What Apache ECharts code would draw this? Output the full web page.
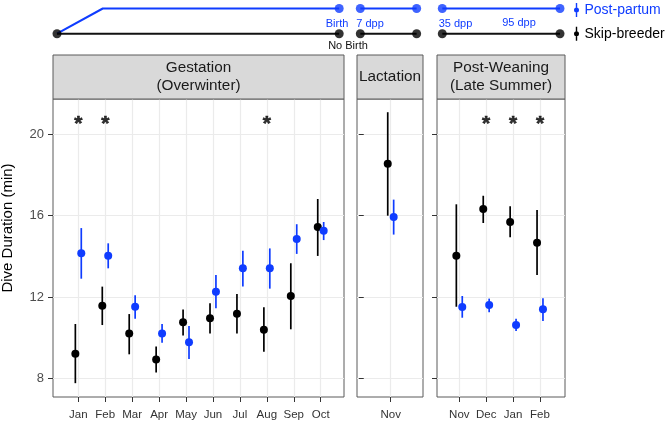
<!DOCTYPE html>
<html><head><meta charset="utf-8">
<script src="https://cdn.jsdelivr.net/npm/echarts@6/dist/echarts.min.js"></script>
<style>html,body{margin:0;padding:0;background:#fff}#c{width:665px;height:422px}</style>
</head><body><div id="c"></div>
<script>
// ---------------- data ----------------
const monthsGest = ['Jan','Feb','Mar','Apr','May','Jun','Jul','Aug','Sep','Oct'];
const skipGestMean = [9.21, 11.57, 10.20, 8.92, 10.76, 10.95, 11.18, 10.39, 12.05, 15.44];
const skipGestLo   = [7.76, 10.62, 9.18, 8.29, 10.10, 10.20, 10.20, 9.30, 10.41, 14.02];
const skipGestHi   = [10.67, 12.51, 11.16, 9.56, 11.38, 11.69, 12.15, 11.49, 13.66, 16.82];
const postGestMean = [14.15, 14.03, 11.52, 10.21, 9.77, 12.26, 13.41, 13.41, 14.85, 15.26];
const postGestLo   = [12.90, 13.41, 10.93, 9.75, 8.95, 11.44, 12.51, 12.41, 14.12, 14.80];
const postGestHi   = [15.39, 14.64, 12.08, 10.67, 10.57, 13.08, 14.28, 14.39, 15.58, 15.69];
const sigGest = ['Jan','Feb','Aug'];

const monthsLact = ['Nov'];
const skipLactMean = [18.56];
const skipLactLo   = [16.00];
const skipLactHi   = [21.09];
const postLactMean = [15.94];
const postLactLo   = [15.07];
const postLactHi   = [16.79];
const sigLact = [];

const monthsWean = ['Nov','Dec','Jan','Feb'];
const skipWeanMean = [14.03, 16.33, 15.69, 14.67];
const skipWeanLo   = [11.52, 15.64, 14.94, 13.08];
const skipWeanHi   = [16.56, 16.98, 16.46, 16.28];
const postWeanMean = [11.51, 11.61, 10.62, 11.40];
const postWeanLo   = [10.98, 11.25, 10.33, 10.82];
const postWeanHi   = [12.05, 11.92, 10.93, 11.94];
const sigWean = ['Dec','Jan','Feb'];

const yTicks = [8, 12, 16, 20];
const sigLevel = 20.5;

// timeline schematic (units 0..100 along the timeline)
const tlPostSegments = [[[0,0],[9.1,1],[56.1,1]], [[60.3,1],[71.5,1]], [[76.6,1],[100,1]]];
const tlSkipSegments = [[[0,0],[56.1,0]], [[60.3,0],[71.5,0]], [[76.6,0],[100,0]]];
const tlPostDots = [[56.1,1],[60.3,1],[71.5,1],[76.6,1],[100,1]];
const tlSkipDots = [[0,0],[56.1,0],[60.3,0],[71.5,0],[76.6,0],[100,0]];

// ---------------- style ----------------
const FONT = '"Liberation Sans", Arial, Helvetica, sans-serif';
const BLUE = '#0f3cff', BLACK = '#000000';
const BORDER = '#5a5a5a', GRID = '#ebebeb';
const Y_MIN = 7.08, Y_MAX = 21.74;
const DODGE = 0.11;
const PANEL_TOP = 99, PANEL_H = 298, STRIP_TOP = 55;

const panels = [
  {left:53, right:344, xMin:0.06, xMax:10.865, months:monthsGest,
   skip:[skipGestMean,skipGestLo,skipGestHi], post:[postGestMean,postGestLo,postGestHi], sig:sigGest,
   title:['Gestation','(Overwinter)'], yLabels:true},
  {left:357, right:423, xMin:-0.251, xMax:2.199, months:monthsLact,
   skip:[skipLactMean,skipLactLo,skipLactHi], post:[postLactMean,postLactLo,postLactHi], sig:sigLact,
   title:['Lactation'], yLabels:false},
  {left:437, right:565, xMin:0.171, xMax:4.929, months:monthsWean,
   skip:[skipWeanMean,skipWeanLo,skipWeanHi], post:[postWeanMean,postWeanLo,postWeanHi], sig:sigWean,
   title:['Post-Weaning','(Late Summer)'], yLabels:false}
];

const grid = [], xAxis = [], yAxis = [], series = [], graphic = [];

function errBars(i, months, lo, hi, off, color){
  return {
    type:'custom', xAxisIndex:i, yAxisIndex:i, clip:false, silent:true, z:2,
    data: months.map((m,k)=>[k+1+off, lo[k], hi[k]]),
    encode:{x:0, y:[1,2]},
    renderItem(params, api){
      const a = api.coord([api.value(0), api.value(1)]);
      const b = api.coord([api.value(0), api.value(2)]);
      return {type:'line', shape:{x1:a[0], y1:a[1], x2:b[0], y2:b[1]},
              style:{stroke:color, lineWidth:1.7}};
    }
  };
}

panels.forEach((p, i) => {
  const idx = p.months.map((m,k)=>k+1);
  grid.push({left:p.left, top:PANEL_TOP, width:p.right-p.left, height:PANEL_H,
             show:true, borderColor:BORDER, borderWidth:1, backgroundColor:'transparent'});
  xAxis.push({type:'value', gridIndex:i, min:p.xMin, max:p.xMax,
    axisLine:{show:false},
    axisTick:{show:true, length:5, customValues:idx, lineStyle:{color:'#333', width:1}},
    axisLabel:{show:true, customValues:idx, margin:12, fontSize:11.5, color:'#333', fontFamily:FONT,
               formatter:v=>p.months[Math.round(v)-1] || ''},
    splitLine:{show:true, lineStyle:{color:GRID, width:1.2}}
  });
  yAxis.push({type:'value', gridIndex:i, min:Y_MIN, max:Y_MAX,
    axisLine:{show:false},
    axisTick:{show:true, length:5, customValues:yTicks, lineStyle:{color:'#333', width:1}},
    axisLabel:{show:p.yLabels, customValues:yTicks, margin:9, fontSize:13, color:'#4d4d4d', fontFamily:FONT},
    splitLine:{show:true, lineStyle:{color:GRID, width:1.2}}
  });
  series.push(errBars(i, p.months, p.skip[1], p.skip[2], -DODGE, BLACK));
  series.push({type:'scatter', name:'Skip-breeder', xAxisIndex:i, yAxisIndex:i, clip:false, z:3,
    symbolSize:8, itemStyle:{color:BLACK, opacity:1},
    data:p.months.map((m,k)=>[k+1-DODGE, p.skip[0][k]])});
  series.push(errBars(i, p.months, p.post[1], p.post[2], DODGE, BLUE));
  series.push({type:'scatter', name:'Post-partum', xAxisIndex:i, yAxisIndex:i, clip:false, z:4,
    symbolSize:8, itemStyle:{color:BLUE, opacity:1},
    data:p.months.map((m,k)=>[k+1+DODGE, p.post[0][k]])});
  if (p.sig.length) {
    series.push({type:'scatter', xAxisIndex:i, yAxisIndex:i, clip:false, silent:true, z:5,
      symbolSize:1, itemStyle:{color:'rgba(0,0,0,0)'},
      label:{show:true, position:'inside', formatter:'*', fontSize:21, fontWeight:'bold',
             color:'#000', fontFamily:FONT, textBorderColor:'#000', textBorderWidth:0.6},
      data:p.sig.map(m=>[p.months.indexOf(m)+1, sigLevel])});
  }
  // strip
  graphic.push({type:'rect', silent:true, z:10,
    shape:{x:p.left, y:STRIP_TOP, width:p.right-p.left, height:PANEL_TOP-STRIP_TOP},
    style:{fill:'#d9d9d9', stroke:BORDER, lineWidth:1}});
  const cx = (p.left+p.right)/2, cy = (STRIP_TOP+PANEL_TOP)/2;
  const n = p.title.length, gap = 18.4;
  p.title.forEach((t, k) => {
    graphic.push({type:'text', silent:true, z:11, x:cx, y:cy + (k-(n-1)/2)*gap,
      style:{text:t, fontSize:15.3, fontFamily:FONT, fill:'#1a1a1a', align:'center', verticalAlign:'middle'}});
  });
});

// timeline grid
const tg = panels.length;
grid.push({left:57, top:8.5, width:503, height:25.2, show:false});
xAxis.push({type:'value', gridIndex:tg, min:0, max:100, show:false});
yAxis.push({type:'value', gridIndex:tg, min:0, max:1, show:false});
tlPostSegments.forEach(seg => series.push({type:'line', xAxisIndex:tg, yAxisIndex:tg, clip:false, silent:true,
  showSymbol:false, data:seg, lineStyle:{color:BLUE, width:2}, z:2}));
tlSkipSegments.forEach(seg => series.push({type:'line', xAxisIndex:tg, yAxisIndex:tg, clip:false, silent:true,
  showSymbol:false, data:seg, lineStyle:{color:'#111', width:2}, z:2}));
series.push({type:'scatter', xAxisIndex:tg, yAxisIndex:tg, clip:false, silent:true, z:3,
  symbolSize:9, itemStyle:{color:BLUE}, data:tlPostDots});
series.push({type:'scatter', xAxisIndex:tg, yAxisIndex:tg, clip:false, silent:true, z:3,
  symbolSize:9, itemStyle:{color:BLACK}, data:tlSkipDots});

// timeline labels
[['Birth',337,23.5,BLUE],['7 dpp',370,23.5,BLUE],['35 dpp',455.5,23.5,BLUE],['95 dpp',519,23,BLUE],['No Birth',348,45.5,'#111']]
  .forEach(([t,x,y,c]) => graphic.push({type:'text', silent:true, x, y,
    style:{text:t, fontSize:11, fontFamily:FONT, fill:c, align:'center', verticalAlign:'middle'}}));

// y axis title
graphic.push({type:'text', silent:true, x:8, y:228, rotation:Math.PI/2,
  style:{text:'Dive Duration (min)', fontSize:15, fontFamily:FONT, fill:'#000', align:'center', verticalAlign:'middle'}});

// legend key: vertical line with a dot (pieces do not overlap)
const PIN = 'path://M2.3,0H3.7V4.6H2.3Z M2.3,9.4H3.7V14H2.3Z M0.5,7A2.5,2.5,0,1,1,5.5,7A2.5,2.5,0,1,1,0.5,7Z';

const chart = echarts.init(document.getElementById('c'), null, {renderer:'canvas'});
chart.setOption({
  animation:false,
  backgroundColor:'#fff',
  textStyle:{fontFamily:FONT},
  grid, xAxis, yAxis, series, graphic,
  legend:{orient:'vertical', left:574, top:3, padding:0, itemWidth:6, itemHeight:14, itemGap:9.7,
    selectedMode:false, textStyle:{fontSize:14, fontFamily:FONT, overflow:'none', width:90},
    data:[{name:'Post-partum', icon:PIN, textStyle:{color:BLUE}},
          {name:'Skip-breeder', icon:PIN, textStyle:{color:'#000'}}]}
});
</script></body></html>
